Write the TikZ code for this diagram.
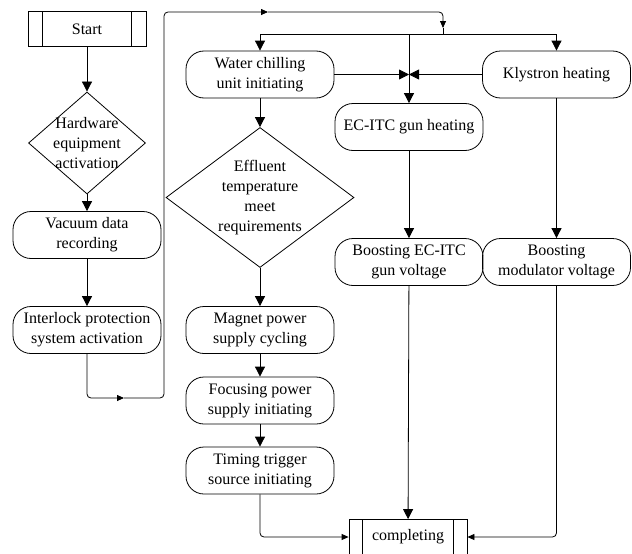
\documentclass[tikz,border=0pt]{standalone}
\usepackage{fontspec}
\setmainfont{Liberation Serif}
\usetikzlibrary{shapes.geometric,arrows.meta}
\begin{document}
\begin{tikzpicture}[x=1pt,y=-1pt,line width=0.8pt]
    \tikzstyle{every node}=[font=\fontsize{16}{20}\selectfont, align=center];
    \tikzstyle{term}=[draw, rounded corners=18pt, minimum width=148pt, minimum height=47pt, inner sep=1pt];
    \tikzstyle{sub}=[draw, minimum width=118pt, minimum height=35pt];
    \tikzstyle{dec}=[draw, shape=diamond, inner sep=0pt];
    \tikzstyle{barrow}=[-{Triangle[length=10pt,width=10pt]}];
    \tikzstyle{sarrow}=[-{Triangle[length=7pt,width=6pt]}];
    \useasboundingbox (0,0) rectangle (632,554);
    % left column
    \node[sub] (start) at (87,29) {Start};
    \node[dec, minimum width=117pt, minimum height=102pt, label={[align=center]center:Hardware\\equipment\\activation}] (hw) at (87,143) {};
    \node[term] (vac) at (87,235) {Vacuum data\\recording};
    \node[term] (ilk) at (87,330) {Interlock protection\\system activation};
    % middle column
    \node[term] (water) at (260,74.5) {Water chilling\\unit initiating};
    \node[dec, minimum width=188pt, minimum height=140pt, label={[align=center]center:Effluent\\temperature\\meet\\requirements}] (eff) at (260,197.5) {};
    \node[term] (magnet) at (260,330) {Magnet power\\supply cycling};
    \node[term] (focus) at (260,400.5) {Focusing power\\supply initiating};
    \node[term] (timing) at (260,470.5) {Timing trigger\\source initiating};
    % right columns
    \node[term] (gun) at (409,127) {EC-ITC gun heating};
    \node[term] (kly) at (556.5,74.5) {Klystron heating};
    \node[term] (bgun) at (409,262) {Boosting EC-ITC\\gun voltage};
    \node[term] (bmod) at (556.5,262) {Boosting\\modulator voltage};
    \node[sub] (done) at (408,537) {completing};
    % side bars of the two sub-process boxes
    \draw ([xshift=15pt]start.north west) -- ([xshift=15pt]start.south west);
    \draw ([xshift=-15pt]start.north east) -- ([xshift=-15pt]start.south east);
    \draw ([xshift=14pt]done.north west) -- ([xshift=14pt]done.south west);
    \draw ([xshift=-14pt]done.north east) -- ([xshift=-14pt]done.south east);
    % loop from the left column to the top bus
    \coordinate (b1) at (124,398);
    \coordinate (t1) at (268,12);
    \coordinate (t2) at (443,28);
    \coordinate (j) at (443,34);
    \coordinate (j2) at (gun.north |- j);
    \draw[barrow] (start) -- (hw);
    \draw[barrow] (hw) -- (vac);
    \draw[barrow] (vac) -- (ilk);
    \draw[sarrow, rounded corners=4pt] (ilk.south) |- (b1);
    \draw[sarrow, rounded corners=4pt] (b1) -| (164,12) -- (t1);
    \draw[sarrow, rounded corners=4pt] (t1) -| (t2);
    \draw (t2) -- (j);
    \draw[barrow] (j) -| (water.north);
    \draw[barrow] (j) -| (kly.north);
    \draw[barrow] (j2) -- (gun.north);
    \draw[barrow] (water.east) -- (water.east -| j2);
    \draw[barrow] (kly.west) -- (kly.west -| j2);
    \draw[barrow] (water) -- (eff);
    \draw[barrow] (eff) -- (magnet);
    \draw[barrow] (magnet) -- (focus);
    \draw[barrow] (focus) -- (timing);
    \draw[barrow] (gun) -- (bgun);
    \draw[barrow] (kly) -- (bmod);
    \draw[barrow] (bgun) -- (done);
    \draw[sarrow, rounded corners=4pt] (timing.south) |- (done.west);
    \draw[sarrow, rounded corners=4pt] (bmod.south) |- (done.east);
\end{tikzpicture}
\end{document}
